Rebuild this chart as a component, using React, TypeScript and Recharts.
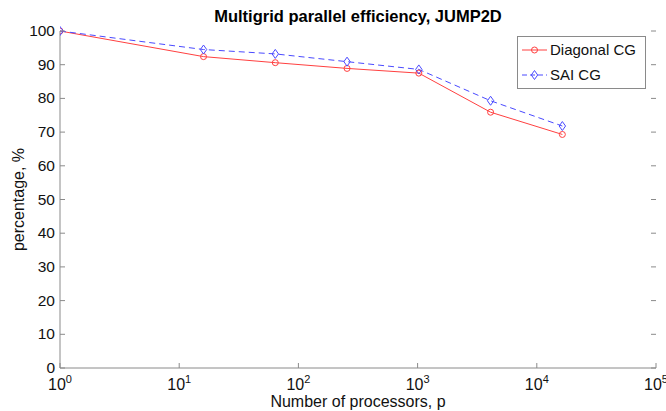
import React from 'react';
import { LineChart, Line, XAxis, YAxis, Legend } from 'recharts';

// processors (powers of 4) and efficiency values
const processors = [1, 16, 64, 256, 1024, 4096, 16384];
const diagonalCG = [100, 92.4, 90.6, 88.9, 87.5, 75.9, 69.3];
const saiCG = [100, 94.5, 93.2, 90.9, 88.6, 79.3, 71.8];

const xMajorTicks = [1, 10, 100, 1000, 10000, 100000];
const yTicks = [0, 10, 20, 30, 40, 50, 60, 70, 80, 90, 100];

const data = processors.map((p, i) => ({ p, diag: diagonalCG[i], sai: saiCG[i] }));

// minor log ticks 2..9 in each decade
const xMinorTicks: number[] = [];
[1, 10, 100, 1000, 10000].forEach(d => {
  for (let m = 2; m <= 9; m++) xMinorTicks.push(d * m);
});

const W = 666;
const H = 411;
const PLOT_L = 60;
const PLOT_R = 656;
const PLOT_T = 31;
const PLOT_B = 368;
const AXIS = '#8a8a8a';
const FONT = '"Liberation Sans", Arial, Helvetica, sans-serif';
const RED = '#ff4040';
const BLUE = '#4a4aff';

const XLabelTick = ({ x, y, payload }: any) => {
  const exp = Math.round(Math.log10(payload.value));
  return (
    <g>
      <line x1={x} x2={x} y1={PLOT_B} y2={PLOT_B - 5} stroke={AXIS} />
      <text x={x} y={y} textAnchor="middle" fontFamily={FONT} fontSize={16} fill="#111">
        <tspan>10</tspan>
        <tspan dy={-7} fontSize={11}>{exp}</tspan>
      </text>
    </g>
  );
};

const XTopTick = ({ x, payload }: any) => {
  const major = xMajorTicks.includes(payload.value);
  const len = major ? 5 : 3;
  return (
    <g>
      <line x1={x} x2={x} y1={PLOT_T} y2={PLOT_T + len} stroke={AXIS} />
      {!major && <line x1={x} x2={x} y1={PLOT_B} y2={PLOT_B - len} stroke={AXIS} />}
    </g>
  );
};

const YTick = ({ x, y, payload }: any) => (
  <g>
    <line x1={PLOT_L} x2={PLOT_L + 5} y1={y} y2={y} stroke={AXIS} />
    <line x1={PLOT_R} x2={PLOT_R - 5} y1={y} y2={y} stroke={AXIS} />
    <text x={x} y={y} dy={5} textAnchor="end" fontFamily={FONT} fontSize={15.5} fill="#111">
      {payload.value}
    </text>
  </g>
);

const Diamond = ({ cx, cy }: any) => {
  if (cx == null || cy == null) return null;
  return (
    <polygon
      points={`${cx},${cy - 4.5} ${cx + 3.2},${cy} ${cx},${cy + 4.5} ${cx - 3.2},${cy}`}
      fill="none"
      stroke={BLUE}
      strokeWidth={1}
    />
  );
};

const LegendBox = () => (
  <div
    style={{
      width: 129,
      height: 53,
      border: '1px solid #8a8a8a',
      background: '#fff',
      fontFamily: FONT,
      fontSize: 15,
      color: '#111',
      boxSizing: 'border-box',
    }}
  >
    <svg width={127} height={51} style={{ display: 'block' }}>
      <line x1={4} x2={29} y1={13} y2={13} stroke={RED} />
      <circle cx={16.5} cy={13} r={3} fill="none" stroke={RED} />
      <text x={32} y={18} fontFamily={FONT} fontSize={15} fill="#111">Diagonal CG</text>
      <line x1={4} x2={29} y1={38} y2={38} stroke={BLUE} strokeDasharray="5 3" />
      <Diamond cx={16.5} cy={38} />
      <text x={32} y={43} fontFamily={FONT} fontSize={15} fill="#111">SAI CG</text>
    </svg>
  </div>
);

export default function App() {
  return (
    <div style={{ position: 'absolute', left: 0, top: 0, width: W, height: H, background: '#fff' }}>
      <LineChart
        width={W}
        height={H}
        data={data}
        margin={{ top: PLOT_T, right: W - PLOT_R, bottom: 0, left: 0 }}
      >
        <XAxis
          xAxisId="bottom"
          dataKey="p"
          type="number"
          scale="log"
          domain={[1, 100000]}
          ticks={xMajorTicks}
          allowDataOverflow
          height={H - PLOT_B}
          stroke={AXIS}
          tickLine={false}
          tickSize={0}
          tickMargin={22}
          tick={<XLabelTick />}
          interval={0}
          label={{ value: 'Number of processors, p', position: 'insideBottom', offset: 4, fill: '#111', fontSize: 16, fontFamily: FONT }}
        />
        <XAxis
          xAxisId="top"
          orientation="top"
          dataKey="p"
          type="number"
          scale="log"
          domain={[1, 100000]}
          ticks={[...xMajorTicks, ...xMinorTicks]}
          allowDataOverflow
          height={0}
          stroke={AXIS}
          tickLine={false}
          tick={<XTopTick />}
          interval={0}
        />
        <YAxis
          yAxisId="left"
          domain={[0, 100]}
          ticks={yTicks}
          width={PLOT_L}
          stroke={AXIS}
          tickLine={false}
          tickSize={0}
          tickMargin={5}
          tick={<YTick />}
          interval={0}
          label={{ value: 'percentage, %', angle: -90, position: 'insideLeft', offset: 18, fill: '#111', fontSize: 16, fontFamily: FONT, style: { textAnchor: 'middle' } }}
        />
        <YAxis yAxisId="right" orientation="right" domain={[0, 100]} width={0} stroke={AXIS} tick={false} tickLine={false} />
        <Legend
          verticalAlign="middle"
          align="center"
          content={<LegendBox />}
          wrapperStyle={{ position: 'absolute', left: 517, top: 36, width: 129, height: 53 }}
        />
        <Line
          xAxisId="bottom"
          yAxisId="left"
          dataKey="diag"
          stroke={RED}
          strokeWidth={1}
          dot={{ r: 3, fill: 'none', stroke: RED, strokeWidth: 1 }}
          isAnimationActive={false}
        />
        <Line
          xAxisId="bottom"
          yAxisId="left"
          dataKey="sai"
          stroke={BLUE}
          strokeWidth={1}
          strokeDasharray="6 4"
          dot={<Diamond />}
          isAnimationActive={false}
        />
        <text x={(PLOT_L + PLOT_R) / 2} y={22} textAnchor="middle" fontFamily={FONT} fontSize={16.5} fontWeight="bold" fill="#000">
          Multigrid parallel efficiency, JUMP2D
        </text>
      </LineChart>
    </div>
  );
}
